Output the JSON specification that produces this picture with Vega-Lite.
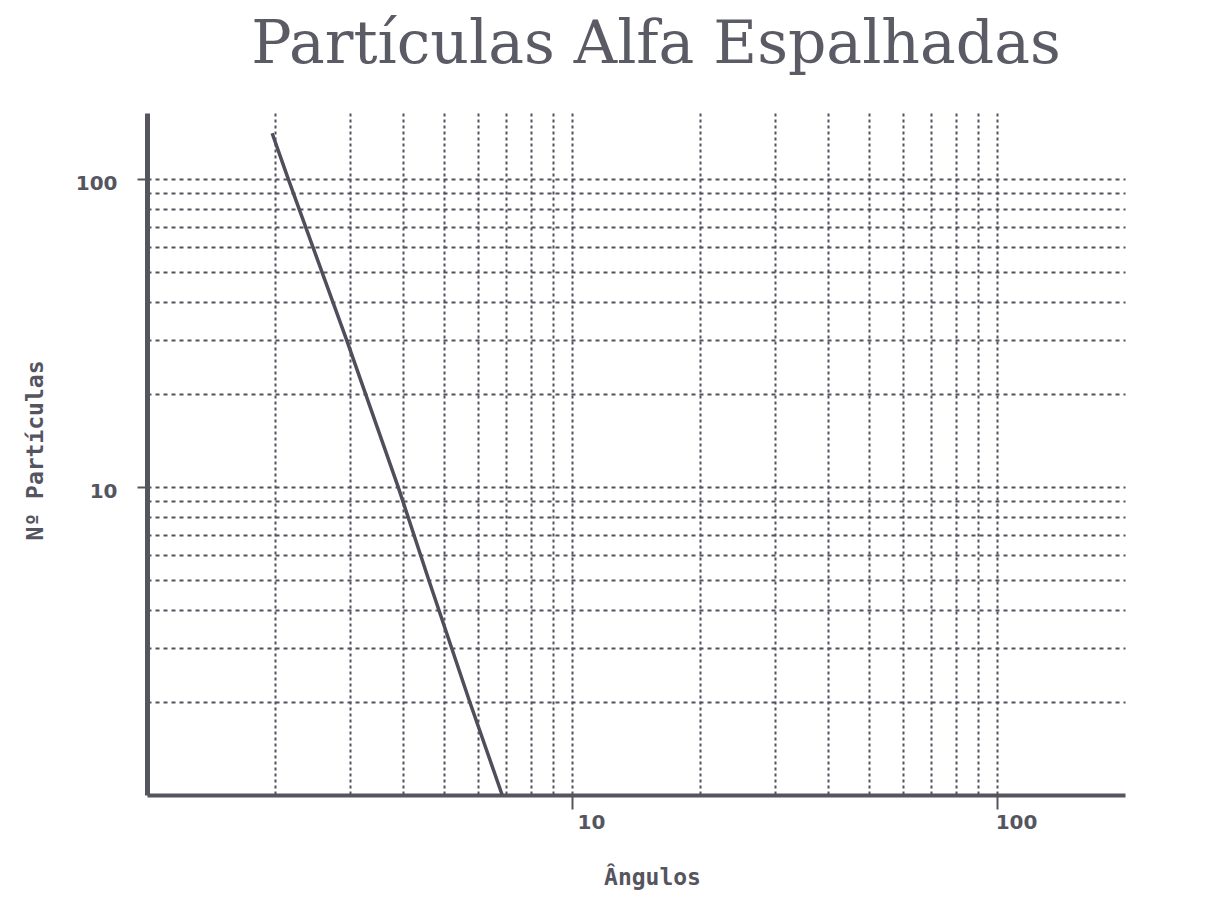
{
  "$schema": "https://vega.github.io/schema/vega-lite/v6.json",
  "width": 978,
  "height": 682,
  "autosize": "none",
  "padding": {"left": 147, "top": 113, "right": 81, "bottom": 102},
  "background": "white",
  "config": {"view": {"stroke": null}},
  "title": {
    "text": "Partículas Alfa Espalhadas",
    "font": "DejaVu Serif",
    "fontSize": 60,
    "fontWeight": "normal",
    "color": "#5b5b66",
    "anchor": "middle",
    "frame": "group",
    "dx": 20,
    "dy": 58,
    "offset": 48,
    "baseline": "alphabetic"
  },
  "data": {
    "values": [
      {"angle": 1.97, "n": 141},
      {"angle": 2.15, "n": 100},
      {"angle": 2.95, "n": 30},
      {"angle": 3.9, "n": 10},
      {"angle": 4.6, "n": 5},
      {"angle": 5.75, "n": 2},
      {"angle": 6.85, "n": 1}
    ]
  },
  "mark": {"type": "line", "color": "#4f4f5c", "strokeWidth": 3.5},
  "encoding": {
    "x": {
      "field": "angle",
      "type": "quantitative",
      "scale": {"type": "log", "domain": [1, 200], "nice": false, "zero": false},
      "axis": {
        "values": [2, 3, 4, 5, 6, 7, 8, 9, 10, 20, 30, 40, 50, 60, 70, 80, 90, 100],
        "grid": true,
        "gridDash": [3, 3],
        "gridWidth": 2,
        "gridColor": "#52525e",
        "domainColor": "#55555f",
        "domainWidth": 4,
        "tickColor": "#55555f",
        "tickWidth": 2,
        "tickSize": 14,
        "tickOpacity": {"condition": {"test": "datum.value == 10 || datum.value == 100", "value": 1}, "value": 0},
        "labelExpr": "datum.value == 10 || datum.value == 100 ? datum.label : ''",
        "labelOverlap": false,
        "labelFlush": false,
        "labelFont": "DejaVu Sans",
        "labelFontWeight": "bold",
        "labelFontSize": 20,
        "labelColor": "#55555f",
        "labelAlign": "center",
        "labelOffset": 19,
        "labelPadding": 3,
        "title": "Ângulos",
        "titleFont": "DejaVu Sans Mono",
        "titleFontWeight": "bold",
        "titleFontSize": 23,
        "titleColor": "#55555f",
        "titleX": 505,
        "titleY": 89,
        "titleAlign": "center",
        "titleBaseline": "alphabetic"
      }
    },
    "y": {
      "field": "n",
      "type": "quantitative",
      "scale": {"type": "log", "domain": [1, 164], "nice": false, "zero": false},
      "axis": {
        "values": [2, 3, 4, 5, 6, 7, 8, 9, 10, 20, 30, 40, 50, 60, 70, 80, 90, 100],
        "grid": true,
        "gridDash": [4, 4],
        "gridWidth": 2,
        "gridColor": "#52525e",
        "domainColor": "#55555f",
        "domainWidth": 5,
        "tickColor": "#55555f",
        "tickWidth": 2,
        "tickSize": 10,
        "tickOpacity": {"condition": {"test": "datum.value == 10 || datum.value == 100", "value": 1}, "value": 0},
        "labelExpr": "datum.value == 10 || datum.value == 100 ? datum.label : ''",
        "labelOverlap": false,
        "labelFlush": false,
        "labelFont": "DejaVu Sans",
        "labelFontWeight": "bold",
        "labelFontSize": 20,
        "labelColor": "#55555f",
        "labelPadding": 20,
        "labelOffset": 4,
        "title": "Nº Partículas",
        "titleFont": "DejaVu Sans Mono",
        "titleFontWeight": "bold",
        "titleFontSize": 23,
        "titleColor": "#55555f",
        "titleX": -112,
        "titleY": 337,
        "titleAngle": -90,
        "titleAlign": "center",
        "titleBaseline": "middle"
      }
    }
  }
}
